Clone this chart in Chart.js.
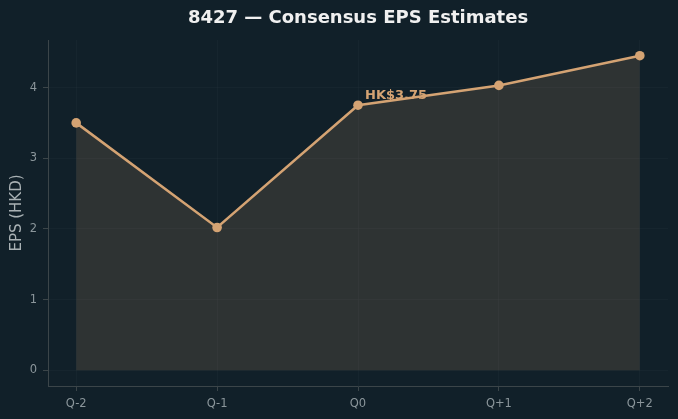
<!DOCTYPE html>
<html>
<head>
<meta charset="utf-8">
<script src="https://cdn.jsdelivr.net/npm/chart.js@4"></script>
<style>
  html, body { margin: 0; padding: 0; background: #112029; }
  #wrap { width: 678px; height: 419px; }
</style>
</head>
<body>
<div id="wrap"><canvas id="epsChart" width="678" height="419"></canvas></div>
<script>
var quarters = ['Q-2', 'Q-1', 'Q0', 'Q+1', 'Q+2'];
var epsValues = [3.50, 2.02, 3.75, 4.03, 4.45];
var yTicks = [0, 1, 2, 3, 4];
var calloutIndex = 2;
var calloutText = 'HK$3.75';
var titleText = '8427 \u2014 Consensus EPS Estimates';

var tan = '#d4a373';
var tickGrey = '#8b969b';
var spineGrey = '#3b4549';
var gridFaint = 'rgba(255,255,255,0.025)';

var points = epsValues.map(function (v, i) { return { x: i, y: v }; });

// title centred over the plot area, plus the bold label next to Q0
var textPlugin = {
    id: 'texts',
    afterDraw: function (chart) {
        var ctx = chart.ctx;
        var area = chart.chartArea;
        ctx.save();
        ctx.font = 'bold 18px "DejaVu Sans"';
        ctx.fillStyle = '#f0f0f0';
        ctx.textAlign = 'center';
        ctx.textBaseline = 'middle';
        ctx.fillText(titleText, (area.left + area.right) / 2, 18);

        var pt = chart.getDatasetMeta(0).data[calloutIndex];
        ctx.font = 'bold 13px "DejaVu Sans"';
        ctx.fillStyle = tan;
        ctx.textAlign = 'left';
        ctx.fillText(calloutText, pt.x + 7, pt.y - 10);
        ctx.restore();
    }
};

var ctx = document.getElementById('epsChart').getContext('2d');
var chart = new Chart(ctx, {
    type: 'line',
    data: {
        datasets: [{
            data: points,
            borderColor: tan,
            borderWidth: 2.5,
            backgroundColor: 'rgba(212,163,115,0.15)',
            fill: 'origin',
            tension: 0,
            pointRadius: 4.8,
            pointHoverRadius: 4.8,
            pointBackgroundColor: tan,
            pointBorderColor: tan,
            pointBorderWidth: 0
        }]
    },
    options: {
        responsive: false,
        animation: false,
        layout: { padding: { left: 0, right: 10, top: 40, bottom: 0 } },
        plugins: {
            legend: { display: false },
            tooltip: { enabled: false },
            title: { display: false }
        },
        scales: {
            x: {
                type: 'linear',
                min: -0.2,
                max: 4.2,
                afterBuildTicks: function (scale) {
                    scale.ticks = quarters.map(function (q, i) { return { value: i }; });
                },
                afterFit: function (scale) { scale.height = 33; },
                ticks: {
                    color: tickGrey,
                    font: { family: 'DejaVu Sans', size: 11.5 },
                    padding: 6,
                    callback: function (v) { return quarters[v]; }
                },
                grid: { color: gridFaint, tickColor: spineGrey, tickLength: 5 },
                border: { color: spineGrey, width: 1 }
            },
            y: {
                min: -0.2225,
                max: 4.6725,
                afterBuildTicks: function (scale) {
                    scale.ticks = yTicks.map(function (v) { return { value: v }; });
                },
                afterFit: function (scale) { scale.width = 48; },
                ticks: {
                    color: tickGrey,
                    font: { family: 'DejaVu Sans', size: 11.5 },
                    padding: 6
                },
                grid: { color: gridFaint, tickColor: spineGrey, tickLength: 5 },
                border: { color: spineGrey, width: 1 },
                title: {
                    display: true,
                    text: 'EPS (HKD)',
                    color: '#a9b1b4',
                    font: { family: 'DejaVu Sans', size: 15 },
                    padding: { top: 8, bottom: 0 }
                }
            }
        }
    },
    plugins: [textPlugin]
});
</script>
</body>
</html>
